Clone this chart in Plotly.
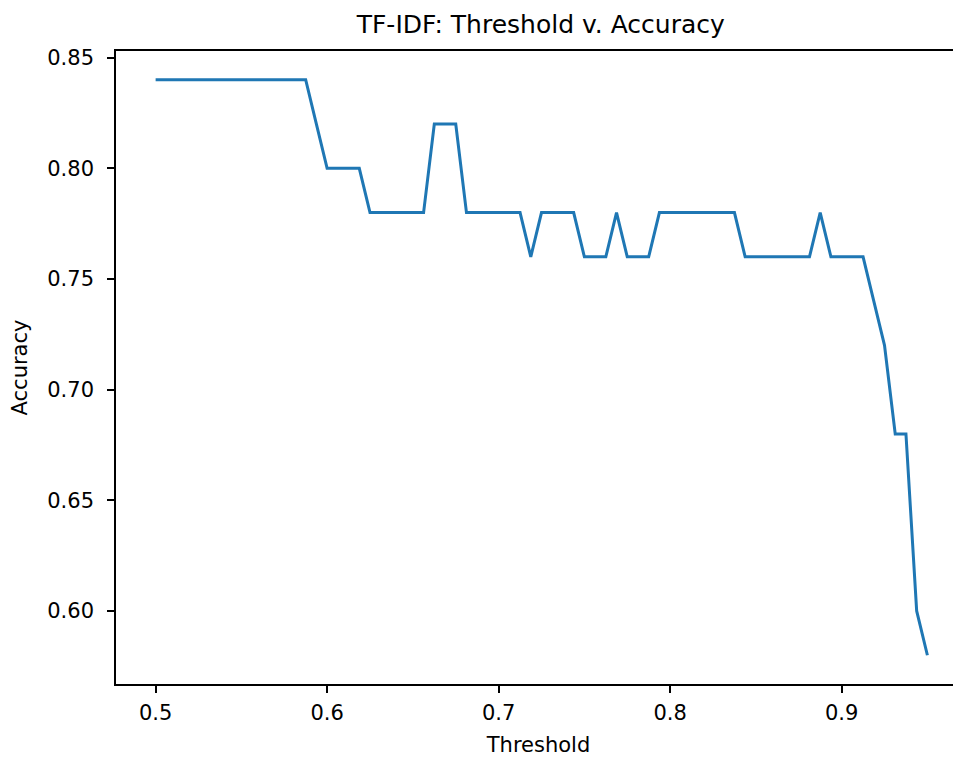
import plotly.graph_objects as go

# Data
thresholds = [
    0.5, 0.50625, 0.5125, 0.51875, 0.525, 0.53125, 0.5375, 0.54375, 0.55, 0.55625,
    0.5625, 0.56875, 0.575, 0.58125, 0.5875, 0.59375, 0.6, 0.60625, 0.6125, 0.61875,
    0.625, 0.63125, 0.6375, 0.64375, 0.65, 0.65625, 0.6625, 0.66875, 0.675, 0.68125,
    0.6875, 0.69375, 0.7, 0.70625, 0.7125, 0.71875, 0.725, 0.73125, 0.7375, 0.74375,
    0.75, 0.75625, 0.7625, 0.76875, 0.775, 0.78125, 0.7875, 0.79375, 0.8, 0.80625,
    0.8125, 0.81875, 0.825, 0.83125, 0.8375, 0.84375, 0.85, 0.85625, 0.8625, 0.86875,
    0.875, 0.88125, 0.8875, 0.89375, 0.9, 0.90625, 0.9125, 0.91875, 0.925, 0.93125,
    0.9375, 0.94375, 0.95,
]
accuracy = [
    0.84, 0.84, 0.84, 0.84, 0.84, 0.84, 0.84, 0.84, 0.84, 0.84,
    0.84, 0.84, 0.84, 0.84, 0.84, 0.82, 0.80, 0.80, 0.80, 0.80,
    0.78, 0.78, 0.78, 0.78, 0.78, 0.78, 0.82, 0.82, 0.82, 0.78,
    0.78, 0.78, 0.78, 0.78, 0.78, 0.76, 0.78, 0.78, 0.78, 0.78,
    0.76, 0.76, 0.76, 0.78, 0.76, 0.76, 0.76, 0.78, 0.78, 0.78,
    0.78, 0.78, 0.78, 0.78, 0.78, 0.76, 0.76, 0.76, 0.76, 0.76,
    0.76, 0.76, 0.78, 0.76, 0.76, 0.76, 0.76, 0.74, 0.72, 0.68,
    0.68, 0.60, 0.58,
]

x_tickvals = [0.5, 0.6, 0.7, 0.8, 0.9]
x_ticktext = ["0.5", "0.6", "0.7", "0.8", "0.9"]
y_tickvals = [0.60, 0.65, 0.70, 0.75, 0.80, 0.85]
y_ticktext = ["0.60", "0.65", "0.70", "0.75", "0.80", "0.85"]

title_text = "TF-IDF: Threshold v. Accuracy"
x_label = "Threshold"
y_label = "Accuracy"

FONT = "DejaVu Sans"
W, H = 953, 751  # page body has an 8px margin inside the 961x759 window

fig = go.Figure()
fig.add_trace(go.Scatter(
    x=thresholds, y=accuracy, mode="lines",
    line=dict(color="#1f77b4", width=3),
    showlegend=False,
))

fig.update_layout(
    width=W, height=H,
    margin=dict(l=108, r=0, t=43, b=75, autoexpand=False),
    paper_bgcolor="white", plot_bgcolor="white",
    font=dict(family=FONT, size=21, color="black"),
    title=dict(
        text=title_text, x=0.5027, xref="paper", xanchor="center",
        y=(H - 25) / H, yref="container", yanchor="bottom",
        font=dict(family=FONT, size=25, color="black"),
    ),
)

fig.update_xaxes(
    range=[0.4769, 0.9696], automargin=False,
    tickmode="array", tickvals=x_tickvals, ticktext=x_ticktext,
    ticks="outside", ticklen=7, tickwidth=1.6, tickcolor="black",
    ticklabelstandoff=2,
    showline=True, linecolor="black", linewidth=1.6, mirror=True,
    showgrid=False, zeroline=False,
    tickfont=dict(family=FONT, size=21, color="black"),
    title=dict(text=x_label, font=dict(family=FONT, size=21, color="black"), standoff=13),
)
fig.update_yaxes(
    range=[0.567, 0.853], automargin=False,
    tickmode="array", tickvals=y_tickvals, ticktext=y_ticktext,
    ticks="outside", ticklen=7, tickwidth=1.6, tickcolor="black",
    ticklabelstandoff=9,
    showline=True, linecolor="black", linewidth=1.6, mirror=False,
    showgrid=False, zeroline=False,
    tickfont=dict(family=FONT, size=21, color="black"),
    title=dict(text=y_label, font=dict(family=FONT, size=21, color="black"), standoff=20),
)

fig.write_html("out.html")
